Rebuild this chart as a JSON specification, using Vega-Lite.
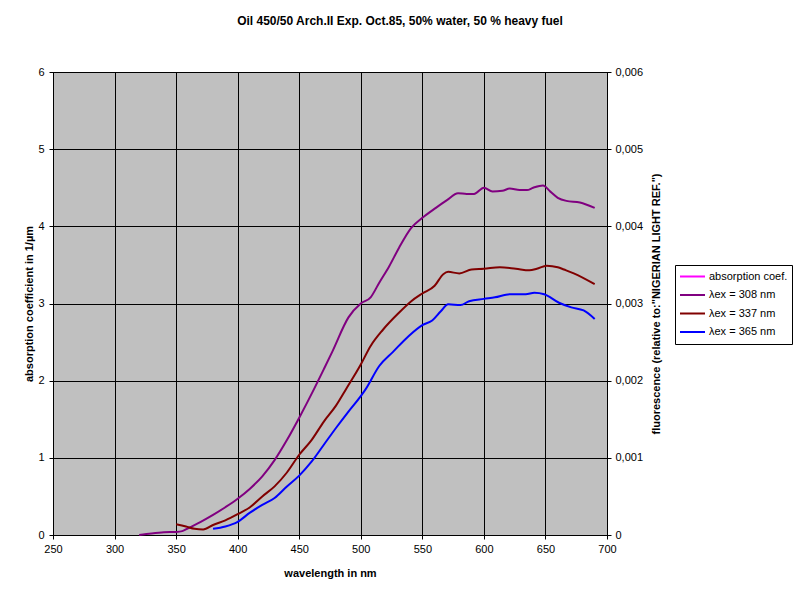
{
  "$schema": "https://vega.github.io/schema/vega-lite/v6.json",
  "autosize": {"type": "none"},
  "padding": {"left": 53, "top": 72, "right": 193, "bottom": 65},
  "width": 554,
  "height": 463,
  "background": "white",
  "title": {
    "text": "Oil 450/50 Arch.II Exp. Oct.85, 50% water, 50 % heavy fuel",
    "anchor": "middle",
    "frame": "group",
    "dx": 70,
    "offset": 38,
    "font": "Liberation Sans",
    "fontSize": 12,
    "fontWeight": "bold",
    "color": "black"
  },
  "config": {
    "view": {"stroke": "black", "strokeWidth": 1, "fill": "#C0C0C0"},
    "axis": {
      "labelFont": "Liberation Sans",
      "labelFontSize": 11,
      "labelColor": "black",
      "labelFlush": false,
      "titleFont": "Liberation Sans",
      "titleFontSize": 11,
      "titleFontWeight": "bold",
      "titleColor": "black",
      "domainColor": "black",
      "tickColor": "black",
      "tickSize": 4,
      "gridColor": "black",
      "gridOpacity": 1,
      "gridWidth": 1
    },
    "legend": {
      "labelFont": "Liberation Sans",
      "labelFontSize": 11,
      "labelColor": "black"
    }
  },
  "data": {
    "values": [
      {"wavelength": 320, "series": "λex = 308 nm", "fluorescence": 0.0},
      {"wavelength": 330, "series": "λex = 308 nm", "fluorescence": 0.00002},
      {"wavelength": 340, "series": "λex = 308 nm", "fluorescence": 0.000035},
      {"wavelength": 350, "series": "λex = 308 nm", "fluorescence": 0.00004},
      {"wavelength": 355, "series": "λex = 308 nm", "fluorescence": 0.00005},
      {"wavelength": 360, "series": "λex = 308 nm", "fluorescence": 0.00009},
      {"wavelength": 370, "series": "λex = 308 nm", "fluorescence": 0.00017},
      {"wavelength": 380, "series": "λex = 308 nm", "fluorescence": 0.00026},
      {"wavelength": 390, "series": "λex = 308 nm", "fluorescence": 0.00036},
      {"wavelength": 400, "series": "λex = 308 nm", "fluorescence": 0.00047},
      {"wavelength": 410, "series": "λex = 308 nm", "fluorescence": 0.0006},
      {"wavelength": 420, "series": "λex = 308 nm", "fluorescence": 0.00076},
      {"wavelength": 430, "series": "λex = 308 nm", "fluorescence": 0.00097},
      {"wavelength": 440, "series": "λex = 308 nm", "fluorescence": 0.00123},
      {"wavelength": 450, "series": "λex = 308 nm", "fluorescence": 0.00152},
      {"wavelength": 462, "series": "λex = 308 nm", "fluorescence": 0.00189},
      {"wavelength": 470, "series": "λex = 308 nm", "fluorescence": 0.00215},
      {"wavelength": 477, "series": "λex = 308 nm", "fluorescence": 0.00238},
      {"wavelength": 490, "series": "λex = 308 nm", "fluorescence": 0.00282},
      {"wavelength": 500, "series": "λex = 308 nm", "fluorescence": 0.003},
      {"wavelength": 508, "series": "λex = 308 nm", "fluorescence": 0.00308},
      {"wavelength": 515, "series": "λex = 308 nm", "fluorescence": 0.00327},
      {"wavelength": 523, "series": "λex = 308 nm", "fluorescence": 0.00348},
      {"wavelength": 531, "series": "λex = 308 nm", "fluorescence": 0.00372},
      {"wavelength": 541, "series": "λex = 308 nm", "fluorescence": 0.00398},
      {"wavelength": 550, "series": "λex = 308 nm", "fluorescence": 0.00411},
      {"wavelength": 561, "series": "λex = 308 nm", "fluorescence": 0.00424},
      {"wavelength": 570, "series": "λex = 308 nm", "fluorescence": 0.00434},
      {"wavelength": 579, "series": "λex = 308 nm", "fluorescence": 0.00443},
      {"wavelength": 586, "series": "λex = 308 nm", "fluorescence": 0.00442},
      {"wavelength": 592, "series": "λex = 308 nm", "fluorescence": 0.00442},
      {"wavelength": 600, "series": "λex = 308 nm", "fluorescence": 0.0045},
      {"wavelength": 607, "series": "λex = 308 nm", "fluorescence": 0.00445},
      {"wavelength": 615, "series": "λex = 308 nm", "fluorescence": 0.00446},
      {"wavelength": 621, "series": "λex = 308 nm", "fluorescence": 0.00449},
      {"wavelength": 629, "series": "λex = 308 nm", "fluorescence": 0.00447},
      {"wavelength": 635, "series": "λex = 308 nm", "fluorescence": 0.00447},
      {"wavelength": 640, "series": "λex = 308 nm", "fluorescence": 0.0045},
      {"wavelength": 648, "series": "λex = 308 nm", "fluorescence": 0.00453},
      {"wavelength": 654, "series": "λex = 308 nm", "fluorescence": 0.00445},
      {"wavelength": 660, "series": "λex = 308 nm", "fluorescence": 0.00437},
      {"wavelength": 667, "series": "λex = 308 nm", "fluorescence": 0.00433},
      {"wavelength": 678, "series": "λex = 308 nm", "fluorescence": 0.00431},
      {"wavelength": 690, "series": "λex = 308 nm", "fluorescence": 0.00424},

      {"wavelength": 350, "series": "λex = 337 nm", "fluorescence": 0.00014},
      {"wavelength": 358, "series": "λex = 337 nm", "fluorescence": 0.00011},
      {"wavelength": 365, "series": "λex = 337 nm", "fluorescence": 0.00008},
      {"wavelength": 372, "series": "λex = 337 nm", "fluorescence": 0.00007},
      {"wavelength": 380, "series": "λex = 337 nm", "fluorescence": 0.00013},
      {"wavelength": 390, "series": "λex = 337 nm", "fluorescence": 0.00019},
      {"wavelength": 400, "series": "λex = 337 nm", "fluorescence": 0.00027},
      {"wavelength": 410, "series": "λex = 337 nm", "fluorescence": 0.00036},
      {"wavelength": 420, "series": "λex = 337 nm", "fluorescence": 0.0005},
      {"wavelength": 430, "series": "λex = 337 nm", "fluorescence": 0.00063},
      {"wavelength": 440, "series": "λex = 337 nm", "fluorescence": 0.00081},
      {"wavelength": 450, "series": "λex = 337 nm", "fluorescence": 0.00104},
      {"wavelength": 460, "series": "λex = 337 nm", "fluorescence": 0.00123},
      {"wavelength": 470, "series": "λex = 337 nm", "fluorescence": 0.00147},
      {"wavelength": 480, "series": "λex = 337 nm", "fluorescence": 0.00168},
      {"wavelength": 488, "series": "λex = 337 nm", "fluorescence": 0.00189},
      {"wavelength": 500, "series": "λex = 337 nm", "fluorescence": 0.00221},
      {"wavelength": 508, "series": "λex = 337 nm", "fluorescence": 0.00245},
      {"wavelength": 518, "series": "λex = 337 nm", "fluorescence": 0.00266},
      {"wavelength": 531, "series": "λex = 337 nm", "fluorescence": 0.00288},
      {"wavelength": 541, "series": "λex = 337 nm", "fluorescence": 0.00303},
      {"wavelength": 550, "series": "λex = 337 nm", "fluorescence": 0.00313},
      {"wavelength": 560, "series": "λex = 337 nm", "fluorescence": 0.00323},
      {"wavelength": 567, "series": "λex = 337 nm", "fluorescence": 0.00338},
      {"wavelength": 571, "series": "λex = 337 nm", "fluorescence": 0.00341},
      {"wavelength": 580, "series": "λex = 337 nm", "fluorescence": 0.00339},
      {"wavelength": 590, "series": "λex = 337 nm", "fluorescence": 0.00344},
      {"wavelength": 600, "series": "λex = 337 nm", "fluorescence": 0.00345},
      {"wavelength": 613, "series": "λex = 337 nm", "fluorescence": 0.00347},
      {"wavelength": 626, "series": "λex = 337 nm", "fluorescence": 0.00345},
      {"wavelength": 637, "series": "λex = 337 nm", "fluorescence": 0.00343},
      {"wavelength": 643, "series": "λex = 337 nm", "fluorescence": 0.00345},
      {"wavelength": 651, "series": "λex = 337 nm", "fluorescence": 0.00349},
      {"wavelength": 660, "series": "λex = 337 nm", "fluorescence": 0.00347},
      {"wavelength": 665, "series": "λex = 337 nm", "fluorescence": 0.00344},
      {"wavelength": 673, "series": "λex = 337 nm", "fluorescence": 0.00339},
      {"wavelength": 690, "series": "λex = 337 nm", "fluorescence": 0.00325},

      {"wavelength": 380, "series": "λex = 365 nm", "fluorescence": 0.00008},
      {"wavelength": 390, "series": "λex = 365 nm", "fluorescence": 0.00011},
      {"wavelength": 400, "series": "λex = 365 nm", "fluorescence": 0.00017},
      {"wavelength": 410, "series": "λex = 365 nm", "fluorescence": 0.00029},
      {"wavelength": 420, "series": "λex = 365 nm", "fluorescence": 0.00039},
      {"wavelength": 430, "series": "λex = 365 nm", "fluorescence": 0.00048},
      {"wavelength": 440, "series": "λex = 365 nm", "fluorescence": 0.00063},
      {"wavelength": 450, "series": "λex = 365 nm", "fluorescence": 0.00077},
      {"wavelength": 460, "series": "λex = 365 nm", "fluorescence": 0.00095},
      {"wavelength": 470, "series": "λex = 365 nm", "fluorescence": 0.00117},
      {"wavelength": 480, "series": "λex = 365 nm", "fluorescence": 0.00139},
      {"wavelength": 490, "series": "λex = 365 nm", "fluorescence": 0.0016},
      {"wavelength": 500, "series": "λex = 365 nm", "fluorescence": 0.0018},
      {"wavelength": 504, "series": "λex = 365 nm", "fluorescence": 0.00189},
      {"wavelength": 515, "series": "λex = 365 nm", "fluorescence": 0.00219},
      {"wavelength": 526, "series": "λex = 365 nm", "fluorescence": 0.00237},
      {"wavelength": 539, "series": "λex = 365 nm", "fluorescence": 0.00258},
      {"wavelength": 550, "series": "λex = 365 nm", "fluorescence": 0.00272},
      {"wavelength": 558, "series": "λex = 365 nm", "fluorescence": 0.00278},
      {"wavelength": 565, "series": "λex = 365 nm", "fluorescence": 0.0029},
      {"wavelength": 571, "series": "λex = 365 nm", "fluorescence": 0.00299},
      {"wavelength": 581, "series": "λex = 365 nm", "fluorescence": 0.00298},
      {"wavelength": 588, "series": "λex = 365 nm", "fluorescence": 0.00303},
      {"wavelength": 600, "series": "λex = 365 nm", "fluorescence": 0.00306},
      {"wavelength": 609, "series": "λex = 365 nm", "fluorescence": 0.00308},
      {"wavelength": 621, "series": "λex = 365 nm", "fluorescence": 0.00312},
      {"wavelength": 634, "series": "λex = 365 nm", "fluorescence": 0.00312},
      {"wavelength": 641, "series": "λex = 365 nm", "fluorescence": 0.00314},
      {"wavelength": 649, "series": "λex = 365 nm", "fluorescence": 0.00312},
      {"wavelength": 661, "series": "λex = 365 nm", "fluorescence": 0.00301},
      {"wavelength": 671, "series": "λex = 365 nm", "fluorescence": 0.00295},
      {"wavelength": 681, "series": "λex = 365 nm", "fluorescence": 0.00291},
      {"wavelength": 690, "series": "λex = 365 nm", "fluorescence": 0.0028}
    ]
  },
  "layer": [
    {
      "mark": {"type": "line", "opacity": 0},
      "encoding": {
        "x": {
          "field": "wavelength",
          "type": "quantitative",
          "scale": {"domain": [250, 700], "nice": false, "zero": false},
          "axis": {
            "title": "wavelength in nm",
            "values": [250, 300, 350, 400, 450, 500, 550, 600, 650, 700],
            "grid": true,
            "labelPadding": 4,
            "titlePadding": 13
          }
        },
        "y": {
          "field": "fluorescence",
          "type": "quantitative",
          "scale": {"domain": [0, 6], "nice": false},
          "axis": {
            "title": "absorption coefficient in 1/µm",
            "orient": "left",
            "values": [0, 1, 2, 3, 4, 5, 6],
            "format": "d",
            "grid": true,
            "labelPadding": 5,
            "titlePadding": 3
          }
        },
        "detail": {"field": "series"}
      }
    },
    {
      "mark": {"type": "line", "strokeWidth": 2, "interpolate": "monotone"},
      "encoding": {
        "x": {
          "field": "wavelength",
          "type": "quantitative",
          "scale": {"domain": [250, 700], "nice": false, "zero": false}
        },
        "y": {
          "field": "fluorescence",
          "type": "quantitative",
          "scale": {"domain": [0, 0.006], "nice": false},
          "axis": {
            "title": "fluorescence (relative to:\"NIGERIAN LIGHT REF.\")",
            "orient": "right",
            "titleAngle": 270,
            "titleBaseline": "top",
            "values": [0, 0.001, 0.002, 0.003, 0.004, 0.005, 0.006],
            "labelExpr": "datum.value == 0 ? '0' : replace(format(datum.value, '.3f'), '.', ',')",
            "grid": false,
            "labelPadding": 4,
            "titlePadding": 8
          }
        },
        "color": {
          "field": "series",
          "type": "nominal",
          "scale": {
            "domain": ["absorption coef.", "λex = 308 nm", "λex = 337 nm", "λex = 365 nm"],
            "range": ["#FF00FF", "#800080", "#800000", "#0000FF"]
          },
          "legend": {
            "title": null,
            "orient": "none",
            "legendX": 622,
            "legendY": 193,
            "fillColor": "white",
            "strokeColor": "black",
            "padding": 4,
            "symbolType": "stroke",
            "symbolStrokeWidth": 2,
            "symbolSize": 625,
            "clipHeight": 15,
            "rowPadding": 3.5,
            "labelOffset": 3
          }
        }
      }
    }
  ],
  "resolve": {"scale": {"y": "independent"}}
}
